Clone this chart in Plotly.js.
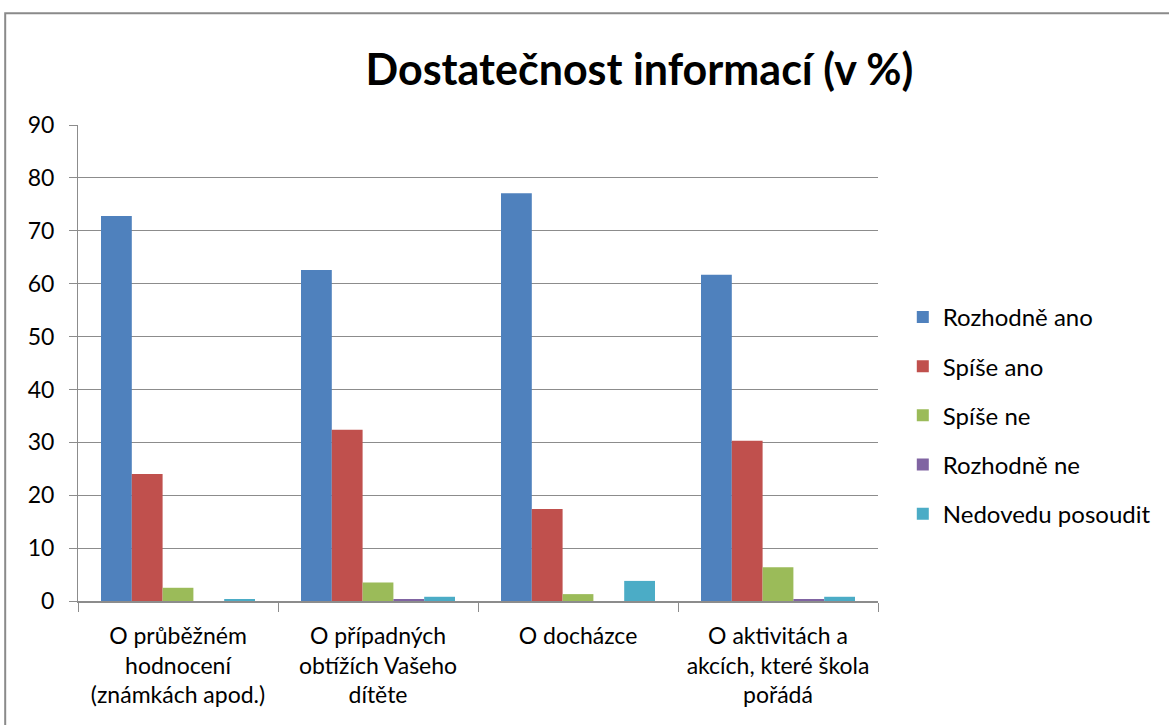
<!DOCTYPE html>
<html>
<head>
<meta charset="utf-8">
<script src="https://cdn.plot.ly/plotly-3.0.1.min.js"></script>
<style>
  html, body { margin: 0; padding: 0; background: #fff; }
  #chart { width: 1169px; height: 725px; }
</style>
</head>
<body>
<div id="chart"></div>
<script>
var categories = [
    "O průběžném<br>hodnocení<br>(známkách apod.)",
    "O případných<br>obtížích Vašeho<br>dítěte",
    "O docházce",
    "O aktivitách a<br>akcích, které škola<br>pořádá"
];
var seriesNames = ["Rozhodně ano", "Spíše ano", "Spíše ne", "Rozhodně ne", "Nedovedu posoudit"];
var rozhodneAno = [72.8, 62.6, 77.1, 61.7];
var spiseAno = [24.0, 32.4, 17.4, 30.3];
var spiseNe = [2.5, 3.5, 1.3, 6.4];
var rozhodneNe = [0, 0.3, 0, 0.3];
var nedovedu = [0.3, 0.8, 3.8, 0.8];
var colors = ["#4F81BD", "#C0504D", "#9BBB59", "#8064A2", "#4BACC6"];

window.onload = function () {
    var values = [rozhodneAno, spiseAno, spiseNe, rozhodneNe, nedovedu];
    var data = values.map(function (v, i) {
        return {
            type: 'bar',
            x: categories,
            y: v,
            name: seriesNames[i],
            legendgroup: 'g' + i,
            marker: { color: colors[i] },
            hoverinfo: 'y+name'
        };
    });

    var layout = {
        width: 1169,
        height: 725,
        margin: { l: 78, r: 291, t: 125, b: 124 },
        paper_bgcolor: '#fff',
        plot_bgcolor: '#fff',
        font: { family: 'Lato, "Open Sans", sans-serif', color: '#000', size: 24 },
        title: {
            text: '<b>Dostatečnost informací (v %)</b>',
            font: { size: 43, color: '#000' },
            x: 0.547, xref: 'container', xanchor: 'center',
            y: 0.904, yref: 'container', yanchor: 'middle'
        },
        barmode: 'group',
        bargap: 0.23,
        bargroupgap: 0,
        xaxis: {
            showline: true,
            linecolor: '#8c8c8c',
            linewidth: 2,
            ticks: 'outside',
            tickson: 'boundaries',
            ticklen: 9,
            tickcolor: '#8c8c8c',
            tickwidth: 1,
            tickfont: { size: 23 },
            ticklabelstandoff: 13,
            showgrid: false
        },
        yaxis: {
            range: [0, 90],
            dtick: 10,
            showline: true,
            linecolor: '#8c8c8c',
            linewidth: 1,
            ticks: 'outside',
            ticklen: 8,
            tickcolor: '#8c8c8c',
            gridcolor: '#8c8c8c',
            gridwidth: 1,
            zeroline: false,
            tickfont: { size: 23 },
            ticklabelstandoff: 10
        },
        legend: {
            x: 1.031, xanchor: 'left',
            y: 0.39, yanchor: 'middle',
            font: { size: 24 },
            traceorder: 'grouped',
            tracegroupgap: 15,
            itemwidth: 30
        },
        shapes: [{
            type: 'rect',
            xref: 'paper', yref: 'paper',
            x0: -0.091, x1: 1.5, y0: -0.5, y1: 1.235,
            line: { color: '#8a8a8a', width: 2 },
            fillcolor: 'rgba(0,0,0,0)'
        }]
    };

    Plotly.newPlot('chart', data, layout, { displayModeBar: false });
};
</script>
</body>
</html>
